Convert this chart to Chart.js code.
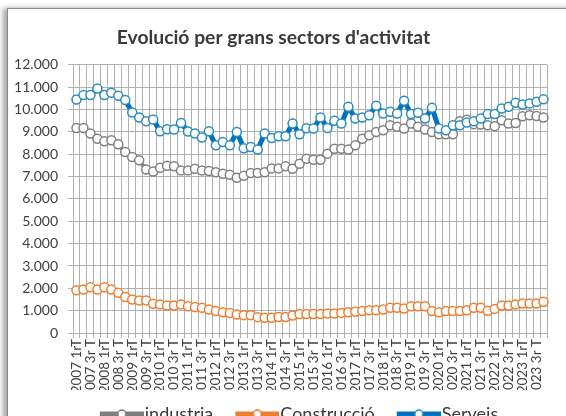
<!DOCTYPE html>
<html>
<head>
<meta charset="utf-8">
<script src="https://cdn.jsdelivr.net/npm/chart.js@4"></script>
<style>
  html, body { margin: 0; padding: 0; background: #ffffff; overflow: hidden; }
  #wrap { position: relative; width: 566px; height: 416px; overflow: hidden; }
  #frame { position: absolute; left: 7px; top: 8px; width: 600px; height: 500px;
           border: 1px solid #8c8c8c; box-shadow: -4px 0 5px rgba(0,0,0,0.35); background: #fff; }
  #c { position: absolute; left: 0; top: 0; }
</style>
</head>
<body>
<div id="wrap">
  <div id="frame"></div>
  <canvas id="c" width="566" height="433"></canvas>
</div>
<script>
// ---- Data ----
const years = [2007,2008,2009,2010,2011,2012,2013,2014,2015,2016,2017,2018,2019,2020,2021,2022,2023];
const quarterNames = ['1rT', '2n T', '3r T', '4t T'];
const categories = [];
years.forEach(y => quarterNames.forEach(q => categories.push(y + ' ' + q)));

const industria = [
  9180, 9180, 8930, 8700, 8580, 8630, 8450, 8100,
  7880, 7730, 7320, 7230, 7400, 7490, 7460, 7280,
  7280, 7350, 7280, 7250, 7200, 7130, 7080, 6950,
  7040, 7160, 7160, 7200, 7370, 7370, 7460, 7350,
  7580, 7800, 7760, 7760, 8030, 8250, 8250, 8210,
  8400, 8700, 8850, 9000, 9080, 9300, 9230, 9150,
  9380, 9230, 9110, 9000, 8900, 8900, 8900, 9480,
  9550, 9350, 9330, 9300, 9260, 9520, 9380, 9400,
  9700, 9750, 9710, 9650
];
const construccio = [
  1910, 1950, 2050, 1950, 2050, 1950, 1800, 1610,
  1500, 1460, 1460, 1310, 1280, 1230, 1230, 1280,
  1200, 1160, 1130, 1050, 980, 930, 900, 830,
  800, 800, 710, 680, 680, 720, 720, 780,
  850, 850, 850, 850, 870, 870, 900, 930,
  950, 980, 1020, 1020, 1050, 1130, 1130, 1100,
  1200, 1200, 1200, 980, 930, 980, 980, 980,
  1020, 1130, 1130, 1000, 1080, 1230, 1230, 1280,
  1320, 1320, 1320, 1400
];
const serveis = [
  10450, 10650, 10650, 10950, 10650, 10760, 10620, 10430,
  9870, 9650, 9480, 9560, 9030, 9120, 9110, 9400,
  9020, 8930, 8750, 9030, 8400, 8550, 8400, 9000,
  8270, 8330, 8210, 8930, 8730, 8810, 8810, 9380,
  8900, 9170, 9150, 9650, 9180, 9500, 9380, 10130,
  9600, 9650, 9750, 10170, 9830, 9900, 9830, 10400,
  9800, 9860, 9600, 10080, 9150, 9080, 9300, 9300,
  9420, 9480, 9600, 9800, 9800, 10050, 10130, 10310,
  10230, 10280, 10350, 10460
];
const yTicks = [0,1000,2000,3000,4000,5000,6000,7000,8000,9000,10000,11000,12000];
const seriesNames = ['industria', 'Construcció', 'Serveis'];

// ---- Styles ----
const FONT = 'Lato, "Open Sans", "DejaVu Sans", sans-serif';
const lineColors = ['#7f7f7f', '#ed7d31', '#0070c0'];
const markerColors = ['#808080', '#ed7d31', '#2b8cbe'];

// legend symbol: transparent margin on the left, line + marker on the right 44px
function legendSymbol(lineColor, markerColor) {
  const cv = document.createElement('canvas');
  cv.width = 59; cv.height = 14;
  const g = cv.getContext('2d');
  g.strokeStyle = lineColor; g.lineWidth = 5;
  g.beginPath(); g.moveTo(15, 7); g.lineTo(59, 7); g.stroke();
  g.fillStyle = '#fff'; g.strokeStyle = markerColor; g.lineWidth = 1.5;
  g.beginPath(); g.arc(37, 7, 4, 0, Math.PI * 2); g.fill(); g.stroke();
  return cv;
}
const symbols = [0,1,2].map(i => legendSymbol(lineColors[i], markerColors[i]));

function ds(label, data, i, width, order) {
  return {
    label: label, data: data, order: order,
    borderColor: lineColors[i], backgroundColor: '#ffffff',
    borderWidth: width, tension: 0,
    pointRadius: 4.5, pointHoverRadius: 4.5,
    pointBackgroundColor: '#ffffff', pointBorderColor: markerColors[i], pointBorderWidth: 1.5
  };
}

const legendShift = {
  id: 'legendShift',
  afterLayout(chart) {
    if (chart.legend) { chart.legend.left += 22; chart.legend.right += 22; }
  }
};

new Chart(document.getElementById('c'), {
  type: 'line',
  data: {
    labels: categories,
    datasets: [
      ds(seriesNames[0], industria, 0, 4, 2),
      ds(seriesNames[1], construccio, 1, 4, 1),
      ds(seriesNames[2], serveis, 2, 5, 0)
    ]
  },
  plugins: [legendShift],
  options: {
    responsive: false,
    animation: false,
    layout: { padding: { left: 0, right: 19, top: 0, bottom: 0 } },
    plugins: {
      title: {
        display: true,
        text: 'Evolució per grans sectors d\'activitat',
        color: '#3a3a3a',
        font: { family: FONT, size: 19.3, weight: 'bold', lineHeight: 1.2 },
        padding: { top: 26.4, bottom: 15.4 }
      },
      legend: {
        position: 'bottom',
        labels: {
          usePointStyle: true,
          pointStyleWidth: 43,
          padding: 15,
          color: '#3a3a3a',
          font: { family: FONT, size: 18 },
          generateLabels: (chart) => chart.data.datasets.map((d, i) => ({
            text: d.label, pointStyle: symbols[i], datasetIndex: i,
            fillStyle: lineColors[i], strokeStyle: lineColors[i], lineWidth: 0, hidden: false,
            fontColor: '#3a3a3a'
          }))
        }
      },
      tooltip: { enabled: false }
    },
    scales: {
      x: {
        offset: true,
        grid: { offset: true, color: '#b0b0b0', lineWidth: 1, tickLength: 5, drawTicks: true },
        border: { color: '#b0b0b0' },
        ticks: {
          autoSkip: false, maxRotation: 90, minRotation: 90, padding: 1,
          color: '#404040', font: { family: FONT, size: 13.5 },
          callback: function (v, idx) { return idx % 2 === 0 ? categories[idx] : ''; }
        },
        afterFit: (s) => { s.height = 57; }
      },
      y: {
        min: 0, max: 12000,
        afterBuildTicks: (s) => { s.ticks = yTicks.map(v => ({ value: v })); },
        grid: { color: '#b0b0b0', lineWidth: 1, tickLength: 5 },
        border: { color: '#b0b0b0' },
        ticks: {
          padding: 10, color: '#404040', font: { family: FONT, size: 14 },
          callback: (v) => v === 0 ? '0' : (v / 1000) + '.000'
        },
        afterFit: (s) => { s.width = 73; }
      }
    }
  }
});
</script>
</body>
</html>
